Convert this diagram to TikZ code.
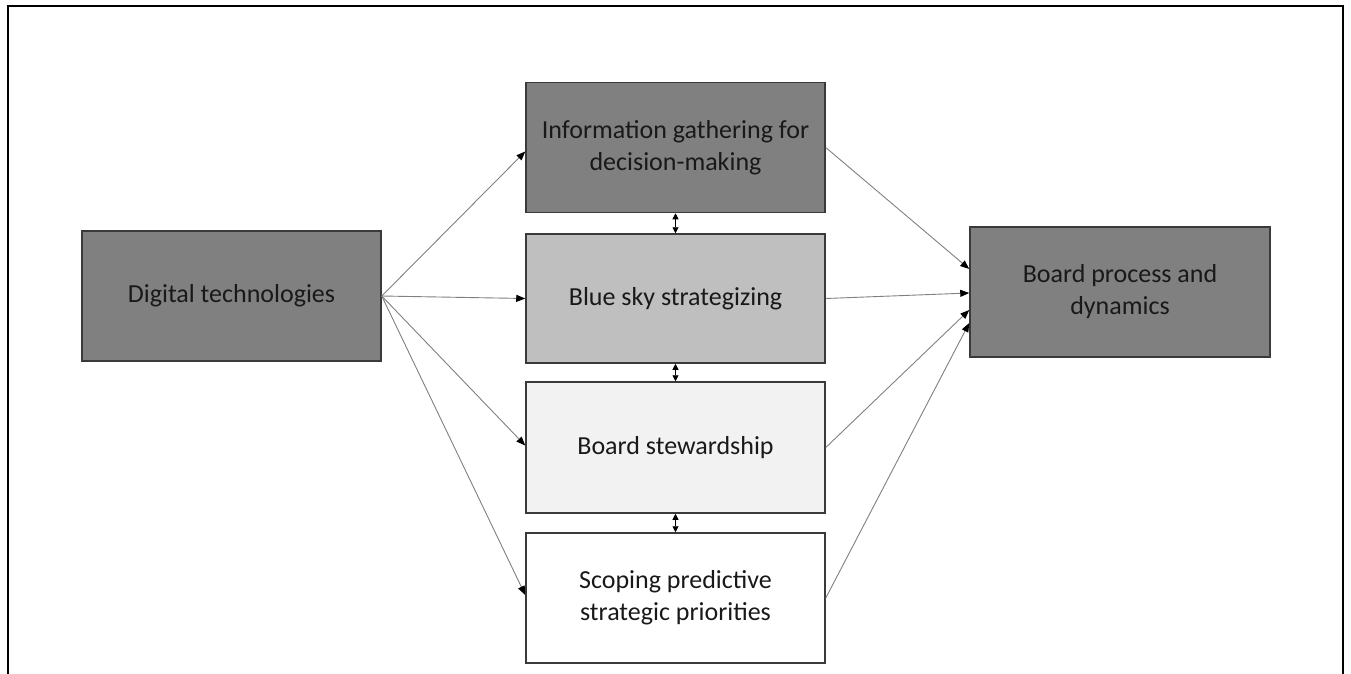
\documentclass[tikz,border=0pt]{standalone}
\usepackage{fontspec}
\setmainfont{Carlito}
\usetikzlibrary{arrows.meta}
\definecolor{darkfill}{HTML}{808080}
\definecolor{midfill}{HTML}{BFBFBF}
\definecolor{lightfill}{HTML}{F2F2F2}
\definecolor{edgecol}{HTML}{3A3A3A}
\definecolor{linkcol}{HTML}{808080}
\begin{document}
\begin{tikzpicture}[x=1pt,y=-1pt,
  box/.style={draw=edgecol, line width=1.5pt, rectangle, inner sep=0pt,
    minimum width=299pt, minimum height=130pt, align=center,
    font=\fontsize{26}{32}\selectfont, text=black!90},
  link/.style={draw=linkcol, line width=0.9pt,
    -{Triangle[length=9pt,width=7pt,color=black]}},
  dbl/.style={draw=black, line width=0.9pt,
    {Triangle[length=6pt,width=6pt]}-{Triangle[length=6pt,width=6pt]}},
  frame/.style={draw=black, line width=1.6pt}
]
\useasboundingbox (0,0) rectangle (1351,673);
\draw[frame] (8,680) -- (8,6) -- (1343,6) -- (1343,680);

\node[box, fill=darkfill] (dt) at (231.5,296) {Digital technologies};
\node[box, fill=darkfill] (ig) at (675.5,147.5) {Information gathering for\\decision-making};
\node[box, fill=midfill, minimum height=129pt] (bs) at (675.5,298.5) {Blue sky strategizing};
\node[box, fill=lightfill, minimum height=131pt] (st) at (675.5,447.5) {Board stewardship};
\node[box, fill=white] (sp) at (675.5,598) {Scoping predictive\\strategic priorities};
\node[box, fill=darkfill, minimum width=300pt] (bp) at (1120,292) {Board process and\\dynamics};

\draw[link] (dt.east) -- ([yshift=-4pt]ig.west);
\draw[link] (dt.east) -- (bs.west);
\draw[link] (dt.east) -- ([yshift=2pt]st.west);
\draw[link] (dt.east) -- ([yshift=3pt]sp.west);

\draw[link] (ig.east) -- ([yshift=23pt]bp.west);
\draw[link] (bs.east) -- ([yshift=-1pt]bp.west);
\draw[link] (st.east) -- ([yshift=-18pt]bp.west);
\draw[link] (sp.east) -- ([yshift=-31pt]bp.west);

\draw[dbl] (ig.south) -- (bs.north);
\draw[dbl] (bs.south) -- (st.north);
\draw[dbl] (st.south) -- (sp.north);
\end{tikzpicture}
\end{document}
